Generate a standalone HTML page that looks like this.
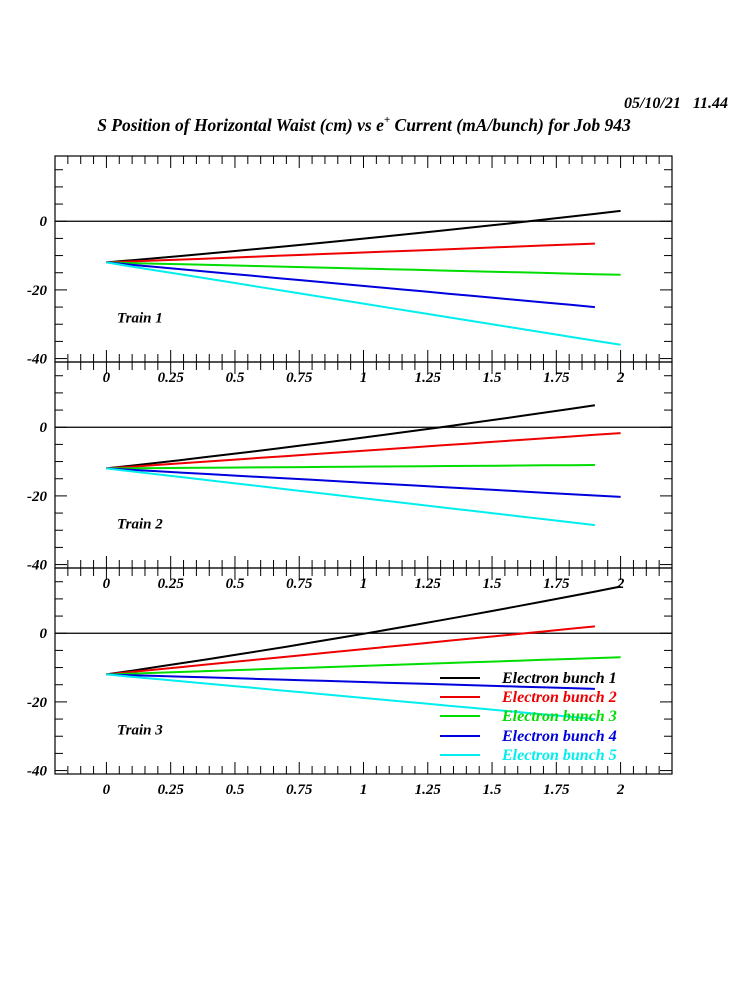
<!DOCTYPE html>
<html><head><meta charset="utf-8"><style>
body{margin:0;background:#fff}
svg text{font-family:"Liberation Serif",serif;font-weight:bold;font-style:italic}
</style></head><body>
<svg id="s" width="750" height="1000" xmlns="http://www.w3.org/2000/svg">
<text x="728" y="108" font-size="16" text-anchor="end" xml:space="preserve">05/10/21   11.44</text>
<text x="364" y="131" font-size="17.5" text-anchor="middle">S Position of Horizontal Waist (cm) vs e<tspan dy="-8" font-size="11">+</tspan><tspan dy="8"> Current (mA/bunch) for Job 943</tspan></text>
</svg>
<script>
const s=document.getElementById('s');let h='';
const L=55,R=672,H=206,tops=[156,362,568];
const X=v=>L+(v+0.2)*(R-L)/2.4;
const cols=['#000','#e00','#0d0','#00d','#0ee'];
const ends=[[[2,3],[1.9,-6.5],[2,-15.6],[1.9,-25],[2,-36]],
[[1.9,6.4],[2,-1.7],[1.9,-11],[2,-20.3],[1.9,-28.5]],
[[2,13.6],[1.9,2],[2,-7],[1.9,-16.2],[1.9,-25]]];
tops.forEach((t,p)=>{
 const Y=v=>t+(19-v)*H/60;
 h+=`<rect x="${L}" y="${t}" width="${R-L}" height="${H}" fill="none" stroke="#000" stroke-width="1.2"/>`;
 h+=`<line x1="${L}" x2="${R}" y1="${Y(0)}" y2="${Y(0)}" stroke="#000" stroke-width="1.2"/>`;
 for(let v=-40;v<=15;v+=5){const m=v%20==0,l=m?12:8,y=Y(v);
  h+=`<line x1="${L}" x2="${L+l}" y1="${y}" y2="${y}" stroke="#000"/><line x1="${R}" x2="${R-l}" y1="${y}" y2="${y}" stroke="#000"/>`;
  if(m)h+=`<text x="${L-8}" y="${y+5}" font-size="15" text-anchor="end">${v}</text>`;}
 for(let i=-3;i<=44;i++){const v=i*0.05,x=X(v);if(x<L||x>R)continue;const m=i%5==0,l=m?12:8;
  h+=`<line x1="${x}" x2="${x}" y1="${t}" y2="${t+l}" stroke="#000"/><line x1="${x}" x2="${x}" y1="${t+H}" y2="${t+H-l}" stroke="#000"/>`;}
 ['0','0.25','0.5','0.75','1','1.25','1.5','1.75','2'].forEach((lab,i)=>{h+=`<text x="${X(i*0.25)}" y="${t+H+20}" font-size="15" text-anchor="middle">${lab}</text>`;});
 h+=`<text x="117" y="${Y(-28)+5}" font-size="15">Train ${p+1}</text>`;
 ends[p].forEach((e,k)=>{let d='';for(let j=0;j<=20;j++){const u=j/20,xv=e[0]*u;let yv=-12+(e[1]+12)*u;if(k==0)yv=-12+(e[1]+12)*(0.85*u+0.15*u*u);d+=(j?'L':'M')+X(xv).toFixed(1)+','+Y(yv).toFixed(1);}
  h+=`<path d="${d}" fill="none" stroke="${cols[k]}" stroke-width="2"/>`;});
});
[678,697,716,736,755].forEach((y,k)=>{h+=`<line x1="440" x2="480" y1="${y}" y2="${y}" stroke="${cols[k]}" stroke-width="2"/><text x="502" y="${y+5}" font-size="16" fill="${cols[k]}">Electron bunch ${k+1}</text>`;});
s.insertAdjacentHTML('beforeend',h);
</script>
</body></html>
